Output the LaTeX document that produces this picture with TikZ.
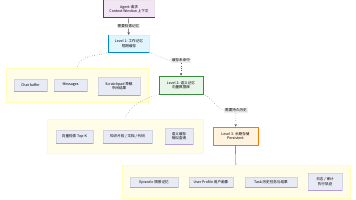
\documentclass[tikz,border=0pt]{standalone}
\usepackage{fontspec}
\setmainfont{Noto Sans CJK SC}
\usetikzlibrary{arrows.meta}

\definecolor{topfill}{HTML}{F3E5F5}
\definecolor{topline}{HTML}{7B1FA2}
\definecolor{bluefill}{HTML}{E1F5FE}
\definecolor{blueline}{HTML}{0288D1}
\definecolor{greenfill}{HTML}{E8F5E9}
\definecolor{greenline}{HTML}{388E3C}
\definecolor{orangefill}{HTML}{FFF3E0}
\definecolor{orangeline}{HTML}{F57C00}
\definecolor{groupfill}{HTML}{FFFDE7}
\definecolor{itemfill}{HTML}{E8EAF6}
\definecolor{itemline}{HTML}{B39DDB}
\definecolor{labelfill}{HTML}{EEEEEE}
\definecolor{edgecol}{HTML}{555555}

\begin{document}
\begin{tikzpicture}[
    x=1pt, y=-1pt,
    node font=\fontsize{3.6}{4.6}\selectfont,
    >={Stealth[length=2.6pt,width=2.4pt]},
    soft box/.style={fill=#1, draw=#1!60!gray!40, line width=0.3pt, align=center, inner sep=1pt},
    level box/.style={fill=#1fill, draw=#1line, line width=0.7pt, align=center, inner sep=1pt},
    group box/.style={fill=groupfill, draw=groupfill!80!yellow, line width=0.3pt, inner sep=0pt},
    item box/.style={fill=itemfill, draw=itemfill!80!gray, line width=0.3pt, align=center, inner sep=1pt},
    edge label/.style={fill=labelfill, inner sep=0.8pt},
    link/.style={draw=edgecol, line width=0.4pt},
    soft link/.style={link, dotted},
]
\useasboundingbox (0,0) rectangle (356,200);

% === Top: request ===
\node[soft box=topfill, minimum width=51pt, minimum height=17pt] (top) at (129,9)
    {Agent 请求\\Context Window 上下文};
\draw[topline, line width=0.9pt] (top.north west) -- (top.south west) -- (top.south east);

% === Level 1 ===
\node[soft box=bluefill, minimum width=40pt, minimum height=17pt] (L1) at (129,43.5)
    {Level 1: 工作记忆\\短期缓存};
\draw[blueline, line width=0.9pt] (L1.north west) -- (L1.south west) -- (L1.south east);

\node[edge label] (lab1) at (128.5,26) {需要检索记忆};
\draw[link] (top) -- (lab1);
\draw[link, ->] (lab1) -- (L1);

% group 1
\node[group box, minimum width=142pt, minimum height=34pt] (group1) at (77,85) {};
\node[item box, minimum width=33pt, minimum height=12pt] (g1a) at (30.5,85) {Chat buffer};
\node[item box, minimum width=33pt, minimum height=12pt] (g1b) at (70.5,85) {Messages};
\node[item box, minimum width=42pt, minimum height=18pt] (g1c) at (119,86) {Scratchpad 草稿\\中间结果};
\foreach \n in {g1a,g1b,g1c}
    \draw[itemline, line width=0.7pt] (\n.south west) -- (\n.south east);

\draw[soft link] (L1.south west) to[out=200, in=80] (group1.north);

% === Level 2 ===
\node[level box=green, minimum width=44pt, minimum height=18pt] (L2) at (181,85)
    {Level 2: 语义记忆\\向量数据库};

\node[edge label] (lab2) at (181,60.5) {缓存未命中};
\draw[soft link] (L1.south east) to[out=-20, in=170] (lab2.west);
\draw[soft link, ->] (lab2) -- (L2);

% group 2
\node[group box, minimum width=156pt, minimum height=34pt] (group2) at (125,136) {};
\node[item box, minimum width=37pt, minimum height=13pt] (g2a) at (74.5,136.5) {向量检索 Top-K};
\node[item box, minimum width=49pt, minimum height=13pt] (g2b) at (127.5,136.5) {知识片段 / 文档 / 代码};
\node[item box, minimum width=28pt, minimum height=16pt] (g2c) at (179,136) {语义缓存\\相似查询};
\foreach \n in {g2a,g2b,g2c}
    \draw[itemline, line width=0.7pt] (\n.south west) -- (\n.south east);

\draw[soft link] (L2.south west) to[out=200, in=70] (group2.north);

% === Level 3 ===
\node[level box=orange, minimum width=45pt, minimum height=18pt] (L3) at (235.5,136)
    {Level 3: 长期存储\\Persistent};

\node[edge label] (lab3) at (236,110.5) {需要持久历史};
\draw[soft link] (L2.south east) to[out=-20, in=160] (lab3.west);
\draw[soft link, ->] (lab3) -- (L3);

% group 3
\node[group box, minimum width=228pt, minimum height=33pt] (group3) at (236,181.5) {};
\node[item box, minimum width=48pt, minimum height=10pt] (g3a) at (154,182) {Episodic 情景记忆};
\node[item box, minimum width=44pt, minimum height=10pt] (g3b) at (211,182) {User Profile 用户画像};
\node[item box, minimum width=52pt, minimum height=10pt] (g3c) at (271,182) {Task 历史任务与结果};
\node[item box, minimum width=34pt, minimum height=17pt] (g3d) at (325,181.5) {日志 / 审计\\执行轨迹};
\foreach \n in {g3a,g3b,g3c,g3d}
    \draw[itemline, line width=0.7pt] (\n.south west) -- (\n.south east);

\draw[link] (L3) -- (group3);

\end{tikzpicture}
\end{document}
